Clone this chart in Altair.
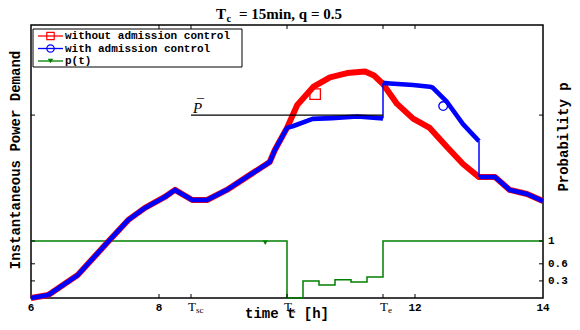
import altair as alt
import pandas as pd

# ---------------- data ----------------
# demand in normalized units (0 = bottom of the axis, 1 = top of the axis)
common_t = [6.0, 6.27, 6.73, 7.20, 7.52, 7.78, 8.09, 8.25, 8.52, 8.75, 9.06, 9.42, 9.73, 9.81, 10.0]
common_v = [0.0, 0.011, 0.084, 0.205, 0.286, 0.330, 0.370, 0.396, 0.359, 0.359, 0.396, 0.451, 0.498, 0.542, 0.623]

red_mid_t = [10.16, 10.41, 10.67, 10.94, 11.22, 11.36, 11.5, 11.72, 11.97, 12.23, 12.5, 12.75]
red_mid_v = [0.707, 0.773, 0.808, 0.824, 0.830, 0.815, 0.784, 0.711, 0.657, 0.623, 0.553, 0.491]

blue_mid_t = [10.1, 10.4, 10.7, 11.1, 11.5, 11.5, 11.61, 11.97, 12.23, 12.28, 12.5, 12.75, 12.97, 13.0]
blue_mid_v = [0.630, 0.656, 0.659, 0.665, 0.658, 0.788, 0.786, 0.780, 0.774, 0.770, 0.718, 0.637, 0.582, 0.575]

tail_t = [13.0, 13.25, 13.48, 13.75, 14.0]
tail_v = [0.443, 0.443, 0.396, 0.381, 0.355]

p_t = [6.0, 10.0, 10.25, 10.5, 10.75, 11.0, 11.25, 11.5, 14.0]
p_v = [1.0, 0.0, 0.30, 0.23, 0.32, 0.28, 0.37, 1.0, 1.0]

pbar_t = [8.5, 11.5]
pbar_v = 0.670

marker_t = [10.44, 12.44]
marker_v = [0.747, 0.703]
green_marker_t = 9.66
green_marker_p = 0.97

x_tick_vals = [6, 8, 8.5, 10, 11.5, 12, 14]
x_num_vals = [6, 8, 12, 14]
x_num_labels = ["6", "8", "12", "14"]
t_label_vals = [8.5, 10, 11.5]
t_subs = ["sc", "s", "e"]
p_tick_vals = [0.3, 0.6, 1]
p_tick_labels = ["0.3", "0.6", "1"]

legend_labels = ["without admission control", "with admission control", "p(t)"]
legend_colors = ["#ff0000", "#0000ff", "#008000"]
legend_shapes = ["square", "circle", "triangle-down"]

RED, BLUE, GREEN = legend_colors
W, H = 512, 273
MONO = "Liberation Mono"
SERIF = "Liberation Serif"

# ---------------- scales ----------------
xs = alt.Scale(domain=[6, 14], nice=False, zero=False)
ydem = alt.Scale(domain=[0, 1], nice=False, zero=False)
yp = alt.Scale(domain=[0, 273 / 57], nice=False, zero=False)
GRID = dict(grid=True, gridDash=[1, 2], gridColor="#9a9a9a", gridWidth=1, ticks=False, domain=False,
            labels=False, title=None)

red_t = common_t + red_mid_t + tail_t
red_v = common_v + red_mid_v + tail_v
blue_t = common_t + blue_mid_t + tail_t
blue_v = common_v + blue_mid_v + tail_v
segs, jumps, s = [], [], 0
for i in range(len(blue_t)):
    if i > 0 and blue_t[i] == blue_t[i - 1]:
        s += 1
        jumps.append((blue_t[i], blue_v[i - 1], blue_v[i]))
    segs.append(s)

red_df = pd.DataFrame({"t": red_t, "v": red_v})
blue_df = pd.DataFrame({"t": blue_t, "v": blue_v, "seg": segs})
jump_df = pd.DataFrame(jumps, columns=["t", "v", "v2"])
pbar_df = pd.DataFrame({"t": pbar_t, "v": [pbar_v, pbar_v]})
p_df = pd.DataFrame({"t": p_t, "p": p_v})

X = alt.X("t:Q", scale=xs, axis=alt.Axis(values=x_tick_vals, **GRID))
Xn = alt.X("t:Q", scale=xs, axis=None)
Yd = alt.Y("v:Q", scale=ydem, axis=None)

red = alt.Chart(red_df).mark_line(color=RED, strokeWidth=6, strokeJoin="round").encode(
    x=X, y=alt.Y("v:Q", scale=ydem, axis=alt.Axis(values=[pbar_v], **GRID)))
blue = alt.Chart(blue_df).mark_line(color=BLUE, strokeWidth=4.6, strokeJoin="round", strokeCap="butt").encode(
    x=Xn, y=Yd, detail="seg:N")
jump = alt.Chart(jump_df).mark_rule(color=BLUE, strokeWidth=1.5).encode(x=Xn, y=Yd, y2="v2:Q")
pbar = alt.Chart(pbar_df).mark_line(color="black", strokeWidth=1.3).encode(x=Xn, y=Yd)
pbar_lab = alt.Chart(pbar_df.iloc[:1].assign(s="P")).mark_text(
    font=SERIF, fontStyle="italic", fontSize=15, align="left", baseline="alphabetic", dx=2, dy=-2).encode(
    x=Xn, y=Yd, text="s:N")
pbar_bar = alt.Chart(pbar_df.iloc[:1].assign(s="\u00af")).mark_text(
    font=SERIF, fontSize=14, align="left", baseline="alphabetic", dx=6, dy=-6).encode(
    x=Xn, y=Yd, text="s:N")
mk_df = pd.DataFrame({"t": marker_t, "v": marker_v, "shape": legend_shapes[:2], "c": legend_colors[:2],
                      "size": [110, 75]})
markers = alt.Chart(mk_df).mark_point(filled=False, strokeWidth=1.3, opacity=1).encode(
    x=Xn, y=Yd, shape=alt.Shape("shape:N", scale=None), color=alt.Color("c:N", scale=None),
    size=alt.Size("size:Q", scale=None))

# inward ticks
xt_df = pd.DataFrame({"t": [v for v in x_tick_vals if 6 < v < 14]})
xt_b = alt.Chart(xt_df).mark_rule(color="black", strokeWidth=1).encode(x=Xn, y=alt.value(H - 4), y2=alt.value(H))
xt_t = alt.Chart(xt_df).mark_rule(color="black", strokeWidth=1).encode(x=Xn, y=alt.value(0), y2=alt.value(4))
yt_df = pd.DataFrame({"v": [pbar_v]})
yt_l = alt.Chart(yt_df).mark_rule(color="black").encode(y=Yd, x=alt.value(0), x2=alt.value(4))
yt_r = alt.Chart(yt_df).mark_rule(color="black").encode(y=Yd, x=alt.value(W - 4), x2=alt.value(W))

# x tick labels: numbers and T labels
xn_df = pd.DataFrame({"t": x_num_vals, "s": x_num_labels})
x_nums = alt.Chart(xn_df).mark_text(font=MONO, fontWeight="bold", fontSize=11, align="center",
                                    baseline="top", color="black").encode(
    x=Xn, y=alt.value(H + 4), text="s:N")
tl_df = pd.DataFrame({"t": t_label_vals, "main": ["T"] * len(t_subs), "sub": t_subs})
t_main = alt.Chart(tl_df).mark_text(font=SERIF, fontSize=13, align="left", baseline="alphabetic", dx=-3).encode(
    x=Xn, y=alt.value(H + 13), text="main:N")
t_sub = alt.Chart(tl_df).mark_text(font=SERIF, fontSize=9, align="left", baseline="alphabetic", dx=5).encode(
    x=Xn, y=alt.value(H + 15), text="sub:N")


def txt(s, x, y, size, font, weight="normal", align="left", angle=0, baseline="alphabetic"):
    return alt.Chart(pd.DataFrame({"s": [s]})).mark_text(
        font=font, fontSize=size, fontWeight=weight, align=align, angle=angle, baseline=baseline,
        color="black").encode(x=alt.value(x), y=alt.value(y), text="s:N")


titles = [
    txt("T", 185, -6, 15, SERIF, "bold"),
    txt("c", 195.5, -3, 10.5, SERIF, "bold"),
    txt("= 15min, q = 0.5", 208, -6, 15, SERIF, "bold"),
    txt("time t [h]", 256, H + 20, 14, MONO, "bold", align="center"),
    txt("Instantaneous Power Demand", -15, 135, 14, MONO, "bold", align="center", angle=270, baseline="middle"),
    txt("Probability p", 533, 112, 14, MONO, "bold", align="center", angle=270, baseline="middle"),
]

# legend box
leg = [alt.Chart(pd.DataFrame({"a": [0]})).mark_rect(fill="white", stroke="black", strokeWidth=1).encode(
    x=alt.value(2), x2=alt.value(211), y=alt.value(4), y2=alt.value(42))]
for i, (lab, col, shp) in enumerate(zip(legend_labels, legend_colors, legend_shapes)):
    yy = 11 + 12.5 * i
    row = pd.DataFrame({"s": [lab]})
    leg.append(alt.Chart(row).mark_rule(color=col, strokeWidth=1.3).encode(
        x=alt.value(7), x2=alt.value(32), y=alt.value(yy)))
    filled = shp == "triangle-down"
    leg.append(alt.Chart(row).mark_point(shape=shp, filled=filled, color=col, strokeWidth=1.2, opacity=1,
                                         size=30 if filled else 55).encode(x=alt.value(19.5), y=alt.value(yy)))
    leg.append(alt.Chart(row).mark_text(font=MONO, fontWeight="bold", fontSize=11, align="left",
                                        baseline="middle", color="black").encode(
        x=alt.value(34), y=alt.value(yy), text="s:N"))

dem_layer = alt.layer(red, blue, jump, pbar, pbar_lab, pbar_bar, markers, xt_b, xt_t, yt_l, yt_r,
                      x_nums, t_main, t_sub, *titles, *leg)

# probability layer (right axis)
Yp = alt.Y("p:Q", scale=yp, axis=None)
green = alt.Chart(p_df).mark_line(color=GREEN, strokeWidth=1.5, interpolate="step-after").encode(
    x=Xn, y=alt.Y("p:Q", scale=yp, axis=alt.Axis(orient="right", values=p_tick_vals, **GRID)))
gm = alt.Chart(pd.DataFrame({"t": [green_marker_t], "p": [green_marker_p]})).mark_point(
    shape="triangle-down", filled=True, color=GREEN, size=25, opacity=1).encode(x=Xn, y=Yp)
pt_df = pd.DataFrame({"p": p_tick_vals, "s": p_tick_labels})
pt_l = alt.Chart(pt_df).mark_rule(color="black").encode(y=Yp, x=alt.value(0), x2=alt.value(4))
pt_r = alt.Chart(pt_df).mark_rule(color="black").encode(y=Yp, x=alt.value(W - 4), x2=alt.value(W))
pt_lab = alt.Chart(pt_df).mark_text(font=MONO, fontWeight="bold", fontSize=11, align="left",
                                    baseline="middle", color="black").encode(
    y=Yp, x=alt.value(W + 5), text="s:N")
p_layer = alt.layer(green, gm, pt_l, pt_r, pt_lab)

chart = alt.layer(p_layer, dem_layer).resolve_scale(y="independent").properties(
    width=W, height=H,
    autosize=alt.AutoSizeParams(type="none"),
    padding={"left": 23, "top": 17, "right": 29, "bottom": 24},
).configure_view(stroke="black", strokeWidth=1.5)

chart.save("out.html", embed_options={"renderer": "svg", "actions": False})
